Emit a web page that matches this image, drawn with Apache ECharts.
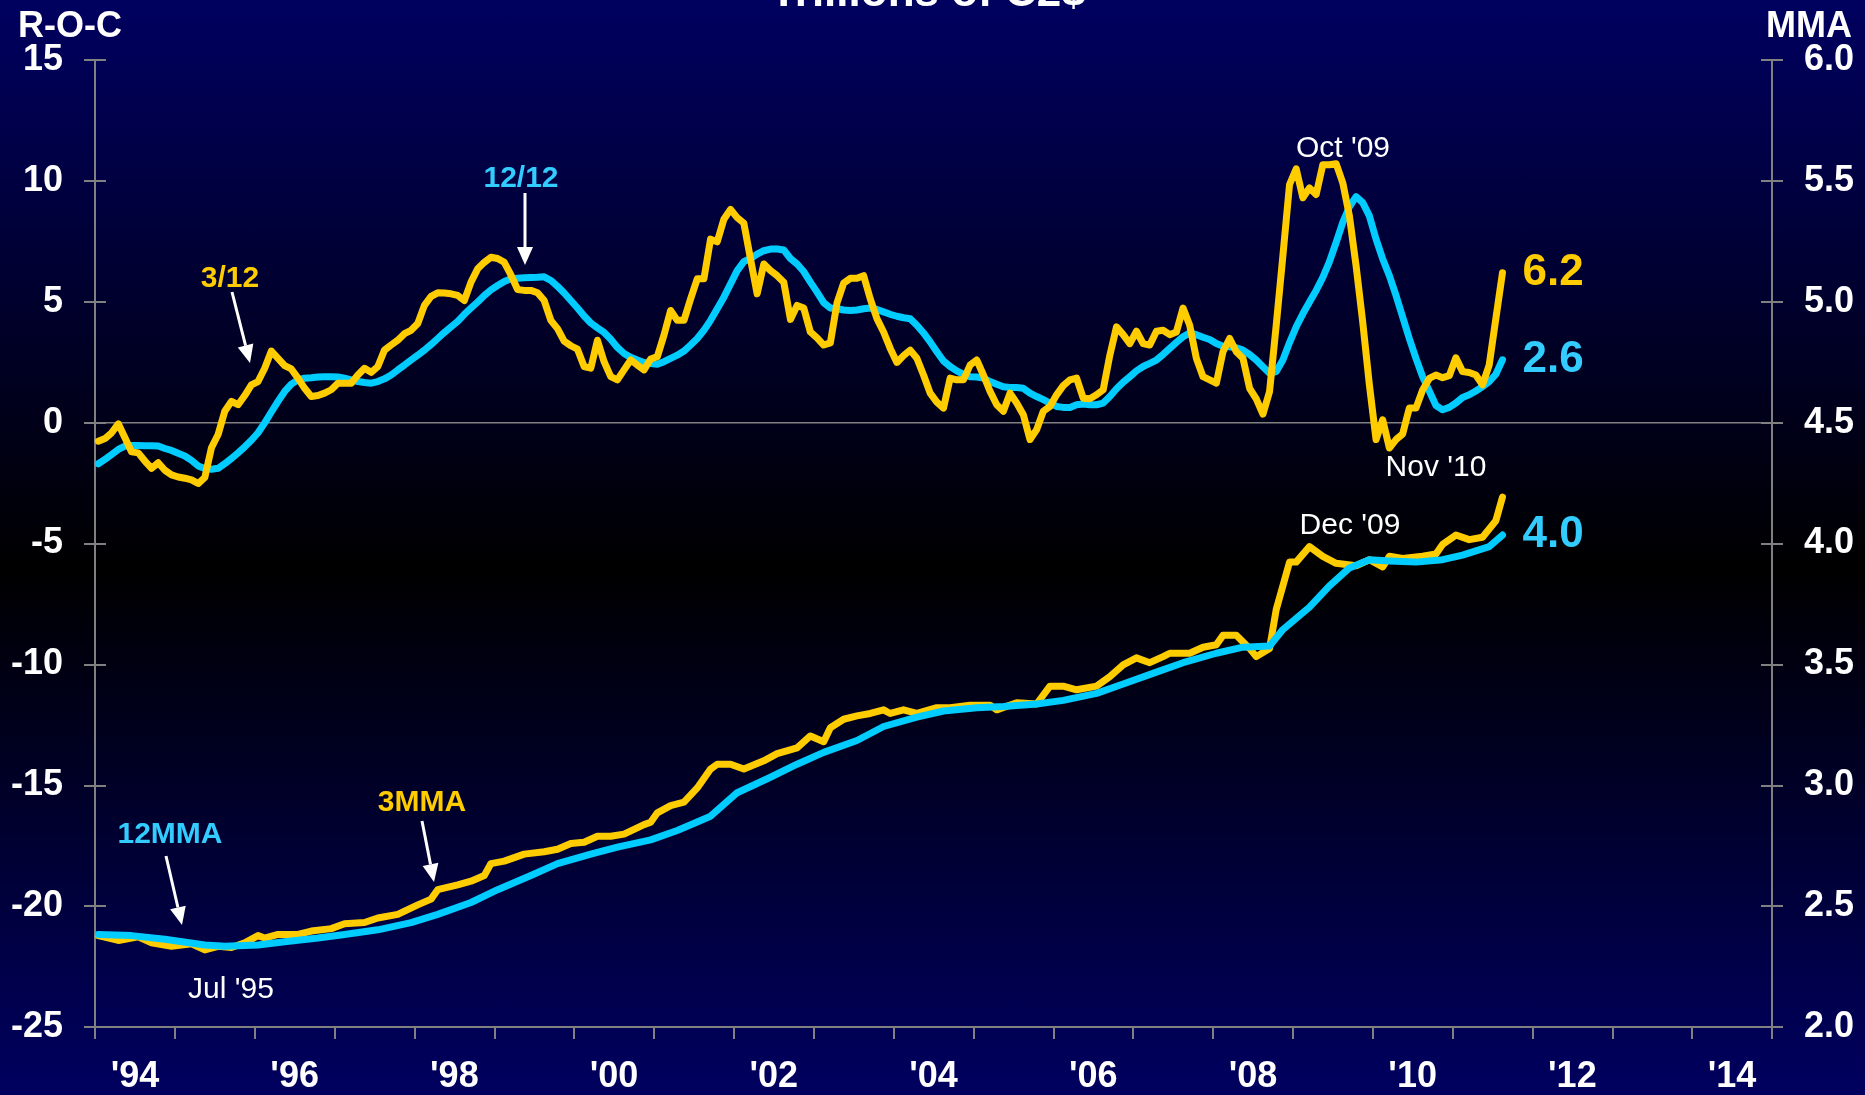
<!DOCTYPE html>
<html>
<head>
<meta charset="utf-8">
<script src="https://cdn.jsdelivr.net/npm/echarts@6/dist/echarts.min.js"></script>
<style>
html, body { margin: 0; padding: 0; width: 1865px; height: 1095px; overflow: hidden; }
#chart { width: 1865px; height: 1095px; background: linear-gradient(to bottom, #000060 0%, #000000 52%, #000060 100%); }
</style>
</head>
<body>
<div id="chart"></div>
<script>
// Year categories along the bottom (one band per year, Jan 1994 .. Dec 2014)
const yearLabels = ["'94","'95","'96","'97","'98","'99","'00","'01","'02","'03","'04",
                    "'05","'06","'07","'08","'09","'10","'11","'12","'13","'14"];

// Monthly rate-of-change series (left axis, %), starting Jan 1994
const roc3over12 = [
  -0.77,-0.66,-0.42,-0.05,-0.63,-1.21,-1.25,-1.59,-1.89,-1.66,-1.97,-2.16,
  -2.25,-2.30,-2.37,-2.52,-2.27,-1.04,-0.49,0.47,0.88,0.74,1.12,1.56,
  1.70,2.25,2.96,2.66,2.36,2.22,1.84,1.42,1.08,1.12,1.22,1.36,
  1.63,1.63,1.63,1.97,2.25,2.08,2.32,3.00,3.21,3.41,3.68,3.82,
  4.10,4.85,5.22,5.37,5.36,5.33,5.26,5.05,5.81,6.36,6.63,6.84,
  6.79,6.63,6.11,5.51,5.47,5.47,5.37,5.05,4.23,3.89,3.37,3.18,
  3.04,2.32,2.25,3.41,2.52,1.90,1.77,2.18,2.59,2.38,2.18,2.63,
  2.73,3.62,4.64,4.23,4.23,5.12,5.95,5.95,7.59,7.48,8.41,8.82,
  8.48,8.25,6.77,5.33,6.56,6.29,6.08,5.81,4.27,4.85,4.74,3.75,
  3.51,3.21,3.30,4.95,5.77,5.97,5.97,6.08,5.12,4.30,3.75,3.07,
  2.49,2.77,3.00,2.66,1.97,1.22,0.85,0.60,1.84,1.77,1.77,2.38,
  2.59,1.97,1.29,0.74,0.47,1.22,0.81,0.33,-0.70,-0.29,0.47,0.67,
  1.15,1.53,1.77,1.84,1.01,0.99,1.15,1.36,2.79,3.96,3.64,3.27,
  3.78,3.27,3.21,3.78,3.82,3.64,3.75,4.74,4.03,2.66,1.90,1.77,
  1.63,2.93,3.48,2.93,2.66,1.42,0.98,0.35,1.29,4.03,6.90,9.85,
  10.50,9.30,9.71,9.44,10.67,10.67,10.71,9.92,8.55,6.49,4.16,1.56,
  -0.70,0.12,-1.05,-0.70,-0.47,0.60,0.60,1.35,1.83,1.97,1.86,1.94,
  2.68,2.11,2.07,1.97,1.56,2.38,4.30,6.2
];
const roc12over12 = [
  -1.70,-1.52,-1.32,-1.11,-0.97,-0.95,-0.95,-0.96,-0.96,-0.97,-1.07,-1.15,
  -1.27,-1.38,-1.56,-1.79,-1.90,-1.93,-1.89,-1.70,-1.48,-1.25,-1.00,-0.73,
  -0.42,-0.01,0.44,0.88,1.29,1.59,1.77,1.84,1.86,1.89,1.90,1.90,
  1.89,1.84,1.77,1.70,1.66,1.63,1.70,1.81,1.97,2.18,2.38,2.59,
  2.79,3.00,3.23,3.48,3.73,3.96,4.19,4.48,4.74,4.99,5.26,5.49,
  5.67,5.84,5.95,5.97,5.99,6.00,6.01,6.03,5.88,5.64,5.36,5.05,
  4.74,4.41,4.12,3.92,3.73,3.45,3.11,2.86,2.70,2.59,2.49,2.44,
  2.41,2.52,2.66,2.79,2.96,3.21,3.48,3.82,4.23,4.71,5.19,5.74,
  6.29,6.66,6.79,6.97,7.11,7.18,7.18,7.14,6.79,6.56,6.25,5.81,
  5.40,4.96,4.74,4.71,4.66,4.64,4.66,4.71,4.74,4.68,4.58,4.48,
  4.40,4.34,4.30,4.03,3.71,3.34,2.93,2.55,2.32,2.14,2.00,1.90,
  1.89,1.84,1.70,1.59,1.48,1.45,1.45,1.42,1.22,1.08,0.95,0.81,
  0.67,0.63,0.63,0.74,0.77,0.74,0.74,0.81,1.08,1.40,1.67,1.90,
  2.14,2.32,2.45,2.59,2.82,3.07,3.32,3.55,3.71,3.64,3.53,3.44,
  3.27,3.16,3.14,3.10,3.00,2.82,2.59,2.31,2.04,2.11,2.59,3.31,
  3.96,4.50,4.99,5.47,6.01,6.66,7.45,8.28,8.93,9.35,9.10,8.55,
  7.59,6.77,6.08,5.26,4.37,3.48,2.66,1.90,1.31,0.71,0.53,0.63,
  0.81,1.04,1.15,1.31,1.49,1.69,2.00,2.6
];

// Moving-average levels (right axis, trillions), [month index, value]
const mma3Pts = [
  [0,2.378],[3,2.358],[6,2.373],[8,2.348],[11,2.334],[14,2.344],[16,2.319],[18,2.334],
  [20,2.329],[22,2.348],[24,2.378],[25,2.368],[27,2.383],[30,2.383],[32,2.397],[35,2.407],
  [37,2.427],[40,2.432],[42,2.451],[45,2.466],[48,2.505],[50,2.529],[51,2.568],[54,2.588],
  [56,2.603],[58,2.627],[59,2.676],[61,2.686],[64,2.715],[67,2.725],[69,2.735],[71,2.759],
  [73,2.764],[75,2.789],[77,2.789],[79,2.798],[82,2.837],[83,2.847],[84,2.886],[86,2.916],
  [88,2.930],[90,2.989],[92,3.067],[93,3.087],[95,3.087],[97,3.067],[100,3.101],[102,3.131],
  [105,3.155],[107,3.204],[109,3.180],[110,3.238],[112,3.273],[114,3.287],[116,3.297],[118,3.312],
  [119,3.297],[121,3.312],[123,3.297],[126,3.321],[128,3.321],[131,3.331],[134,3.331],[135,3.312],
  [138,3.341],[141,3.336],[143,3.410],[145,3.410],[147,3.395],[150,3.410],[152,3.449],[154,3.498],
  [156,3.527],[158,3.507],[160,3.532],[161,3.546],[164,3.546],[166,3.571],[168,3.581],[169,3.620],
  [171,3.620],[173,3.566],[174,3.532],[176,3.566],[177,3.727],[179,3.923],[180,3.923],[182,3.987],
  [184,3.947],[186,3.918],[189,3.908],[191,3.933],[193,3.903],[194,3.947],[196,3.938],[199,3.947],
  [201,3.957],[202,3.996],[204,4.035],[206,4.016],[208,4.026],[210,4.094],[211,4.192]
];
const mma12Pts = [
  [0,2.383],[5,2.378],[10,2.363],[16,2.339],[19,2.334],[24,2.339],[28,2.353],[33,2.368],
  [37,2.383],[42,2.402],[47,2.432],[51,2.466],[56,2.515],[60,2.568],[65,2.627],[69,2.676],
  [74,2.715],[78,2.744],[83,2.774],[87,2.813],[92,2.872],[96,2.969],[101,3.033],[105,3.087],
  [109,3.136],[114,3.185],[118,3.243],[123,3.282],[127,3.307],[132,3.321],[136,3.326],[141,3.336],
  [145,3.351],[150,3.380],[154,3.419],[159,3.468],[163,3.507],[168,3.546],[172,3.571],[176,3.576],
  [178,3.644],[182,3.737],[185,3.825],[188,3.899],[191,3.933],[194,3.928],[198,3.923],[202,3.933],
  [205,3.952],[209,3.987],[211,4.035]
];

const YELLOW = '#FFCC00';
const CYAN = '#00CCFF';
const CYAN_TEXT = '#33CCFF';
const GREY = '#808080';
const FONT = "'Liberation Sans', Arial, sans-serif";

// monthly values -> [x, y] with each month centred in its band
const monthly = arr => arr.map((v, i) => [i + 0.5, v]);
const paired = arr => arr.map(p => [p[0] + 0.5, p[1]]);

function lineSeries(name, data, color, yIdx, z, endLabel) {
  return {
    name, type: 'line', data, xAxisIndex: 1, yAxisIndex: yIdx,
    showSymbol: false, symbol: 'none', smooth: false, z,
    lineStyle: { color, width: 7, cap: 'round', join: 'round' },
    endLabel: endLabel ? {
      show: true, distance: 20,
      formatter: p => p.value[1].toFixed(1),
      color: endLabel, fontSize: 44, fontWeight: 'bold', fontFamily: FONT
    } : { show: false },
    emphasis: { disabled: true }, silent: true
  };
}

function text(str, x, y, color, bold, size) {
  return {
    type: 'text', x, y, silent: true, z: 50,
    style: { text: str, fill: color, font: (bold ? 'bold ' : '') + (size || 30) + 'px ' + FONT,
             align: 'center', verticalAlign: 'middle' }
  };
}

function arrow(x1, y1, x2, y2) {
  const dx = x2 - x1, dy = y2 - y1, len = Math.hypot(dx, dy);
  const ux = dx / len, uy = dy / len, head = 18, half = 8;
  const bx = x2 - ux * head, by = y2 - uy * head;
  return [
    { type: 'line', silent: true, z: 50,
      shape: { x1, y1, x2: bx, y2: by },
      style: { stroke: '#FFFFFF', lineWidth: 3 } },
    { type: 'polygon', silent: true, z: 50,
      shape: { points: [[x2, y2], [bx - uy * half, by + ux * half], [bx + uy * half, by - ux * half]] },
      style: { fill: '#FFFFFF' } }
  ];
}

const axisLabelStyle = { color: '#FFFFFF', fontSize: 36, fontWeight: 'bold', fontFamily: FONT };
const greyLine = { color: GREY, width: 2 };

const chart = echarts.init(document.getElementById('chart'));
chart.setOption({
  animation: false,
  grid: { left: 95, right: 93, top: 60, bottom: 62, containLabel: false },
  xAxis: [
    { type: 'category', data: yearLabels, boundaryGap: true,
      axisLine: { onZero: false, lineStyle: greyLine },
      axisTick: { show: true, interval: 0, length: 12, lineStyle: greyLine },
      axisLabel: Object.assign({ interval: 1, margin: 32 }, axisLabelStyle),
      splitLine: { show: false } },
    { type: 'value', min: 0, max: 252, show: false }
  ],
  yAxis: [
    { type: 'value', position: 'left', min: -25, max: 15, interval: 5,
      axisLine: { show: true, onZero: false, lineStyle: greyLine },
      axisTick: { show: true, length: 11, lineStyle: greyLine },
      axisLabel: Object.assign({ margin: 32 }, axisLabelStyle),
      splitLine: { show: false } },
    { type: 'value', position: 'left', min: -25, max: 15, interval: 5,
      axisLine: { show: false },
      axisTick: { show: true, inside: true, length: 11, lineStyle: greyLine },
      axisLabel: { show: false }, splitLine: { show: false } },
    { type: 'value', position: 'right', min: 2, max: 6, interval: 0.5,
      axisLine: { show: true, onZero: false, lineStyle: greyLine },
      axisTick: { show: true, length: 11, lineStyle: greyLine },
      axisLabel: Object.assign({ margin: 32, formatter: v => v.toFixed(1) }, axisLabelStyle),
      splitLine: { show: false } },
    { type: 'value', position: 'right', min: 2, max: 6, interval: 0.5,
      axisLine: { show: false },
      axisTick: { show: true, inside: true, length: 11, lineStyle: greyLine },
      axisLabel: { show: false }, splitLine: { show: false } }
  ],
  series: [
    { name: 'zero', type: 'line', xAxisIndex: 1, yAxisIndex: 0, data: [[0, 0], [252, 0]],
      symbol: 'none', silent: true, z: 1, lineStyle: { color: GREY, width: 1.5 } },
    lineSeries('12/12', monthly(roc12over12), CYAN, 0, 3, CYAN_TEXT),
    lineSeries('3/12', monthly(roc3over12), YELLOW, 0, 4, YELLOW),
    lineSeries('3MMA', paired(mma3Pts), YELLOW, 2, 3, null),
    lineSeries('12MMA', paired(mma12Pts), CYAN, 2, 4, CYAN_TEXT)
  ],
  graphic: [
    text('Trillions of C2$', 928, -6, '#FFFFFF', true, 44),
    { type: 'text', x: 18, y: 27, silent: true,
      style: { text: 'R-O-C', fill: '#FFFFFF', font: 'bold 36px ' + FONT, align: 'left', verticalAlign: 'middle' } },
    { type: 'text', x: 1852, y: 27, silent: true,
      style: { text: 'MMA', fill: '#FFFFFF', font: 'bold 36px ' + FONT, align: 'right', verticalAlign: 'middle' } },
    text('3/12', 230, 279, YELLOW, true),
    text('12/12', 521, 179, CYAN_TEXT, true),
    text("Oct '09", 1343, 149, '#FFFFFF', false),
    text("Nov '10", 1436, 468, '#FFFFFF', false),
    text("Dec '09", 1350, 526, '#FFFFFF', false),
    text('3MMA', 422, 803, YELLOW, true),
    text('12MMA', 170, 835, CYAN_TEXT, true),
    text("Jul '95", 231, 990, '#FFFFFF', false)
  ].concat(arrow(232, 292, 250, 363), arrow(525, 193, 525, 265),
           arrow(422, 821, 434, 882), arrow(166, 856, 182, 925))
});
</script>
</body>
</html>
